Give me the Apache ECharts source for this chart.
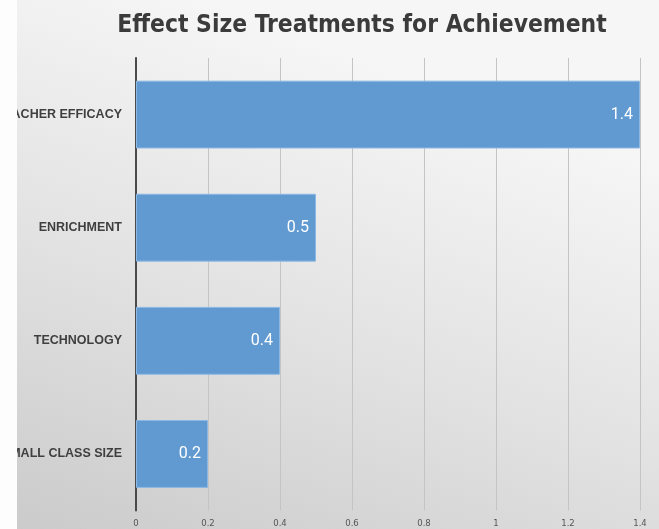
<!DOCTYPE html>
<html><head><meta charset="utf-8">
<script src="https://cdn.jsdelivr.net/npm/echarts@6/dist/echarts.min.js"></script>
<style>html,body{margin:0;padding:0;background:#fff}#c{width:659px;height:529px}</style>
</head><body><div id="c"></div>
<script>
const categories = ['TEACHER EFFICACY', 'ENRICHMENT', 'TECHNOLOGY', 'SMALL CLASS SIZE'];
const values = [1.4, 0.5, 0.4, 0.2];
const xTicks = [0, 0.2, 0.4, 0.6, 0.8, 1, 1.2, 1.4];

const chart = echarts.init(document.getElementById('c'));
chart.setOption({
  animation: false,
  backgroundColor: '#fff',
  graphic: [
    { type: 'rect', z: -10, silent: true, shape: { x: 17, y: 0, width: 642, height: 529 },
      style: { fill: new echarts.graphic.LinearGradient(0.3, 0, 0, 1, [
        { offset: 0, color: '#f6f6f6' }, { offset: 0.5, color: '#e2e2e2' }, { offset: 1, color: '#cbcbcb' }]) } },
    { type: 'rect', z: 100, silent: true, shape: { x: 0, y: 0, width: 17, height: 529 }, style: { fill: '#fdfdfd' } }
  ],
  title: {
    text: 'Effect Size Treatments for Achievement',
    left: 357, textAlign: 'center', top: 9,
    textStyle: { fontFamily: '"DejaVu Sans Condensed", "DejaVu Sans", sans-serif', fontWeight: 'bold', fontSize: 24.4, color: '#3b3b3b' }
  },
  grid: { left: 136, right: 19, top: 58, bottom: 18.5, containLabel: false, outerBoundsMode: 'none' },
  xAxis: {
    type: 'value', min: 0, max: 1.4, interval: 0.2,
    axisLine: { show: false }, axisTick: { show: false },
    splitLine: { show: true, lineStyle: { color: '#c4c4c4', width: 1 } },
    axisLabel: { color: '#555', fontSize: 8.5, margin: 9, fontFamily: 'DejaVu Sans',
      formatter: v => xTicks.includes(Math.round(v * 10) / 10) ? String(Math.round(v * 10) / 10) : '' }
  },
  yAxis: {
    type: 'category', data: categories, inverse: true,
    axisLine: { show: true, lineStyle: { color: '#4a4a4a', width: 2 } },
    axisTick: { show: false },
    axisLabel: { color: '#3f3f3f', fontWeight: 'bold', fontSize: 12.5, margin: 14, fontFamily: 'Liberation Sans' }
  },
  series: [{
    type: 'bar', data: values, barCategoryGap: '40%',
    itemStyle: { color: '#6199d1', borderColor: '#8cb9e3', borderWidth: 1 },
    label: { show: true, position: 'insideRight', distance: 7, color: '#fff', fontSize: 16, fontFamily: 'Roboto' }
  }]
});
</script></body></html>
